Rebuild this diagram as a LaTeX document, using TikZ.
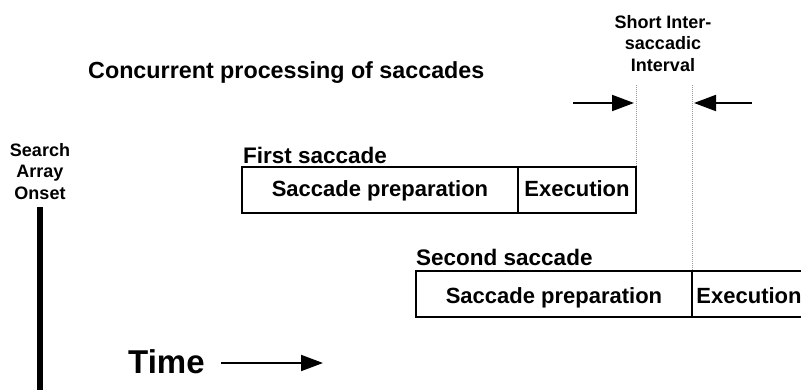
\documentclass[tikz,border=0pt]{standalone}
\usepackage{fontspec}
\setmainfont{Liberation Sans}
\usetikzlibrary{arrows.meta}
\tikzset{
  lbl/.style={inner sep=0pt, font=\bfseries\fontsize{22.5}{26}\selectfont},
  cell/.style={draw, line width=2pt, inner sep=0pt, outer sep=0pt, minimum height=46pt,
    font=\bfseries\fontsize{22}{26}\selectfont},
  gap/.style={draw=gray!80, line width=1pt, densely dotted},
  arr/.style={line width=2pt, -{Triangle[length=22pt,width=16pt]}},
}
\begin{document}
\begin{tikzpicture}[x=1pt,y=-1pt]
\useasboundingbox (0,0) rectangle (801,390);
\clip (0,0) rectangle (801,390);
% title
\node[inner sep=0pt, anchor=base west, font=\bfseries\fontsize{23.3}{27}\selectfont] (title) at (88,79) {Concurrent processing of saccades};
% interval label
\node[inner sep=0pt, anchor=north, align=center, font=\bfseries\fontsize{18}{21.5}\selectfont] (sisi) at (663,15) {Short Inter-\\saccadic\\Interval};
% onset
\node[inner sep=0pt, anchor=north, align=center, font=\bfseries\fontsize{18}{21.5}\selectfont] (onset) at (40,143) {Search\\Array\\Onset};
\coordinate (bartop) at (40,207);
\coordinate (barbot) at (40,395);
\draw[line width=6pt] (bartop) -- (barbot);
% first saccade
\node[lbl, anchor=base west] (fs) at (243,164) {First saccade};
\node[cell, anchor=north west, minimum width=276pt, text height=15pt, text depth=1pt] (p1) at (242,167) {Saccade preparation};
\node[cell, anchor=north west, minimum width=118pt, text height=15pt, text depth=1pt] (e1) at (p1.north east) {Execution};
% second saccade
\node[lbl, anchor=base west] (ss) at (416,266) {Second saccade};
\node[cell, anchor=north west, minimum width=276pt, text height=19pt, text depth=0pt] (p2) at (416,271) {Saccade preparation};
\node[cell, anchor=north west, minimum width=114pt, text height=19pt, text depth=0pt] (e2) at (p2.north east) {Execution};
% dotted interval lines
\coordinate (d1) at (636,85);
\coordinate (d2) at (692,85);
\draw[gap] (d1) -- (e1.north east);
\draw[gap] (d2) -- (e2.north west);
% interval arrows
\coordinate (la) at (573,103);
\coordinate (lt) at (634,103);
\coordinate (ra) at (752,103);
\coordinate (rt) at (694,103);
\draw[arr] (la) -- (lt);
\draw[arr] (ra) -- (rt);
% time
\node[inner sep=0pt, anchor=base west, font=\bfseries\fontsize{33}{38}\selectfont] (time) at (128,373) {Time};
\coordinate (ta) at (221,363);
\coordinate (tb) at (323,363);
\draw[arr] (ta) -- (tb);
\end{tikzpicture}
\end{document}
